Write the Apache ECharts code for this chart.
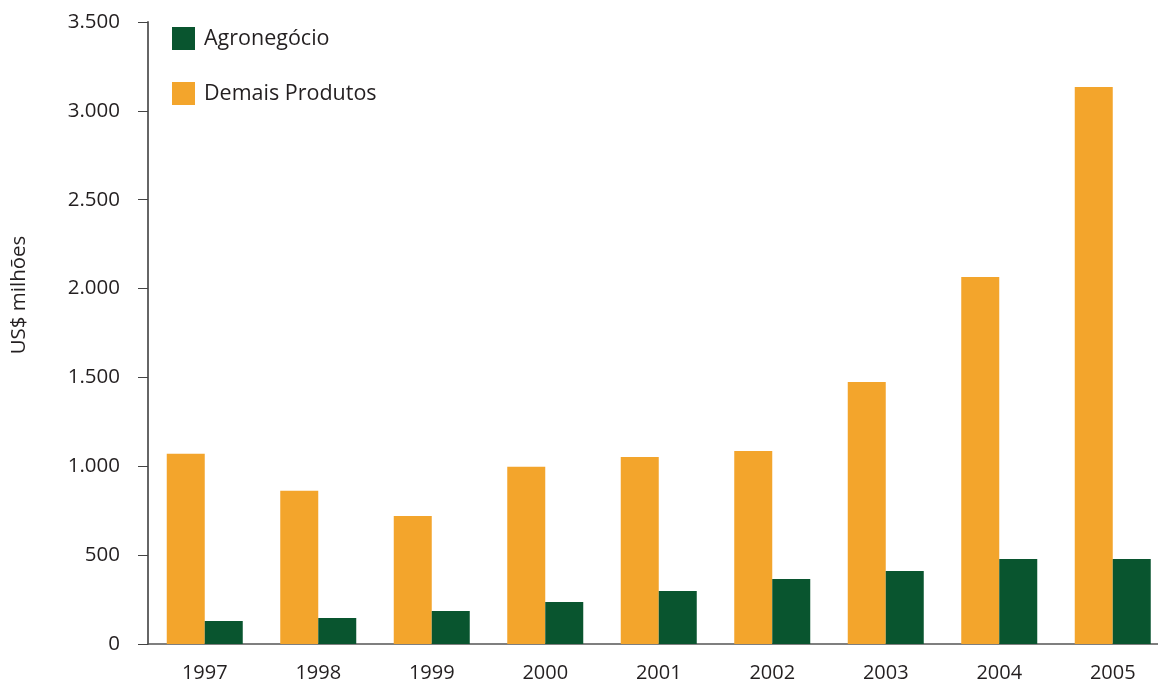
<!DOCTYPE html>
<html><head><meta charset="utf-8">
<script src="https://cdn.jsdelivr.net/npm/echarts@6/dist/echarts.min.js"></script>
<style>html,body{margin:0;padding:0;background:#fff}#c{width:1158px;height:683px}</style>
</head><body><div id="c"></div>
<script>
const categories = ['1997','1998','1999','2000','2001','2002','2003','2004','2005'];
const demaisProdutos = [1070, 862, 720, 997, 1052, 1086, 1474, 2065, 3134];
const agronegocio = [129, 146, 186, 236, 298, 366, 411, 478, 478];
const yTicks = [0, 500, 1000, 1500, 2000, 2500, 3000, 3500];

const font = '"Open Sans", "Noto Sans", sans-serif';
const chart = echarts.init(document.getElementById('c'), null, {renderer:'canvas'});
chart.setOption({
  animation:false,
  textStyle:{fontFamily:font},
  grid:{left:148, width:1021.5, top:22, height:622, containLabel:false, outerBoundsMode:'none'},
  legend:{
    orient:'vertical', left:167, top:22, itemWidth:23, itemHeight:23, itemGap:32,
    icon:'rect', data:['Agronegócio','Demais Produtos'],
    textStyle:{fontSize:21.5, color:'#231f20', fontFamily:font, padding:[0,0,0,4]}
  },
  xAxis:{
    type:'category', data:categories,
    axisLine:{lineStyle:{color:'#555', width:1.5}},
    axisTick:{length:10, lineStyle:{color:'#555'}},
    axisLabel:{fontSize:20, color:'#231f20', margin:19, fontFamily:font}
  },
  yAxis:{
    type:'value', min:yTicks[0], max:yTicks[yTicks.length-1], interval:500,
    name:'US$ milhões', nameLocation:'middle', nameGap:118, nameRotate:90,
    nameTextStyle:{fontSize:20.5, color:'#231f20', fontFamily:font, padding:[0,0,0,76]},
    axisLine:{show:true, lineStyle:{color:'#666', width:2}},
    axisTick:{show:true, length:10, lineStyle:{color:'#444'}},
    splitLine:{show:false},
    axisLabel:{fontSize:20.5, color:'#231f20', margin:28, fontFamily:font,
      formatter:v=>String(v).replace(/\B(?=(\d{3})+(?!\d))/g,'.')}
  },
  series:[
    {name:'Demais Produtos', type:'bar', data:demaisProdutos, barWidth:38, barGap:'0%', itemStyle:{color:'#F3A52C'}},
    {name:'Agronegócio', type:'bar', data:agronegocio, barWidth:38, barGap:'0%', itemStyle:{color:'#09552F'}}
  ]
});
</script></body></html>
